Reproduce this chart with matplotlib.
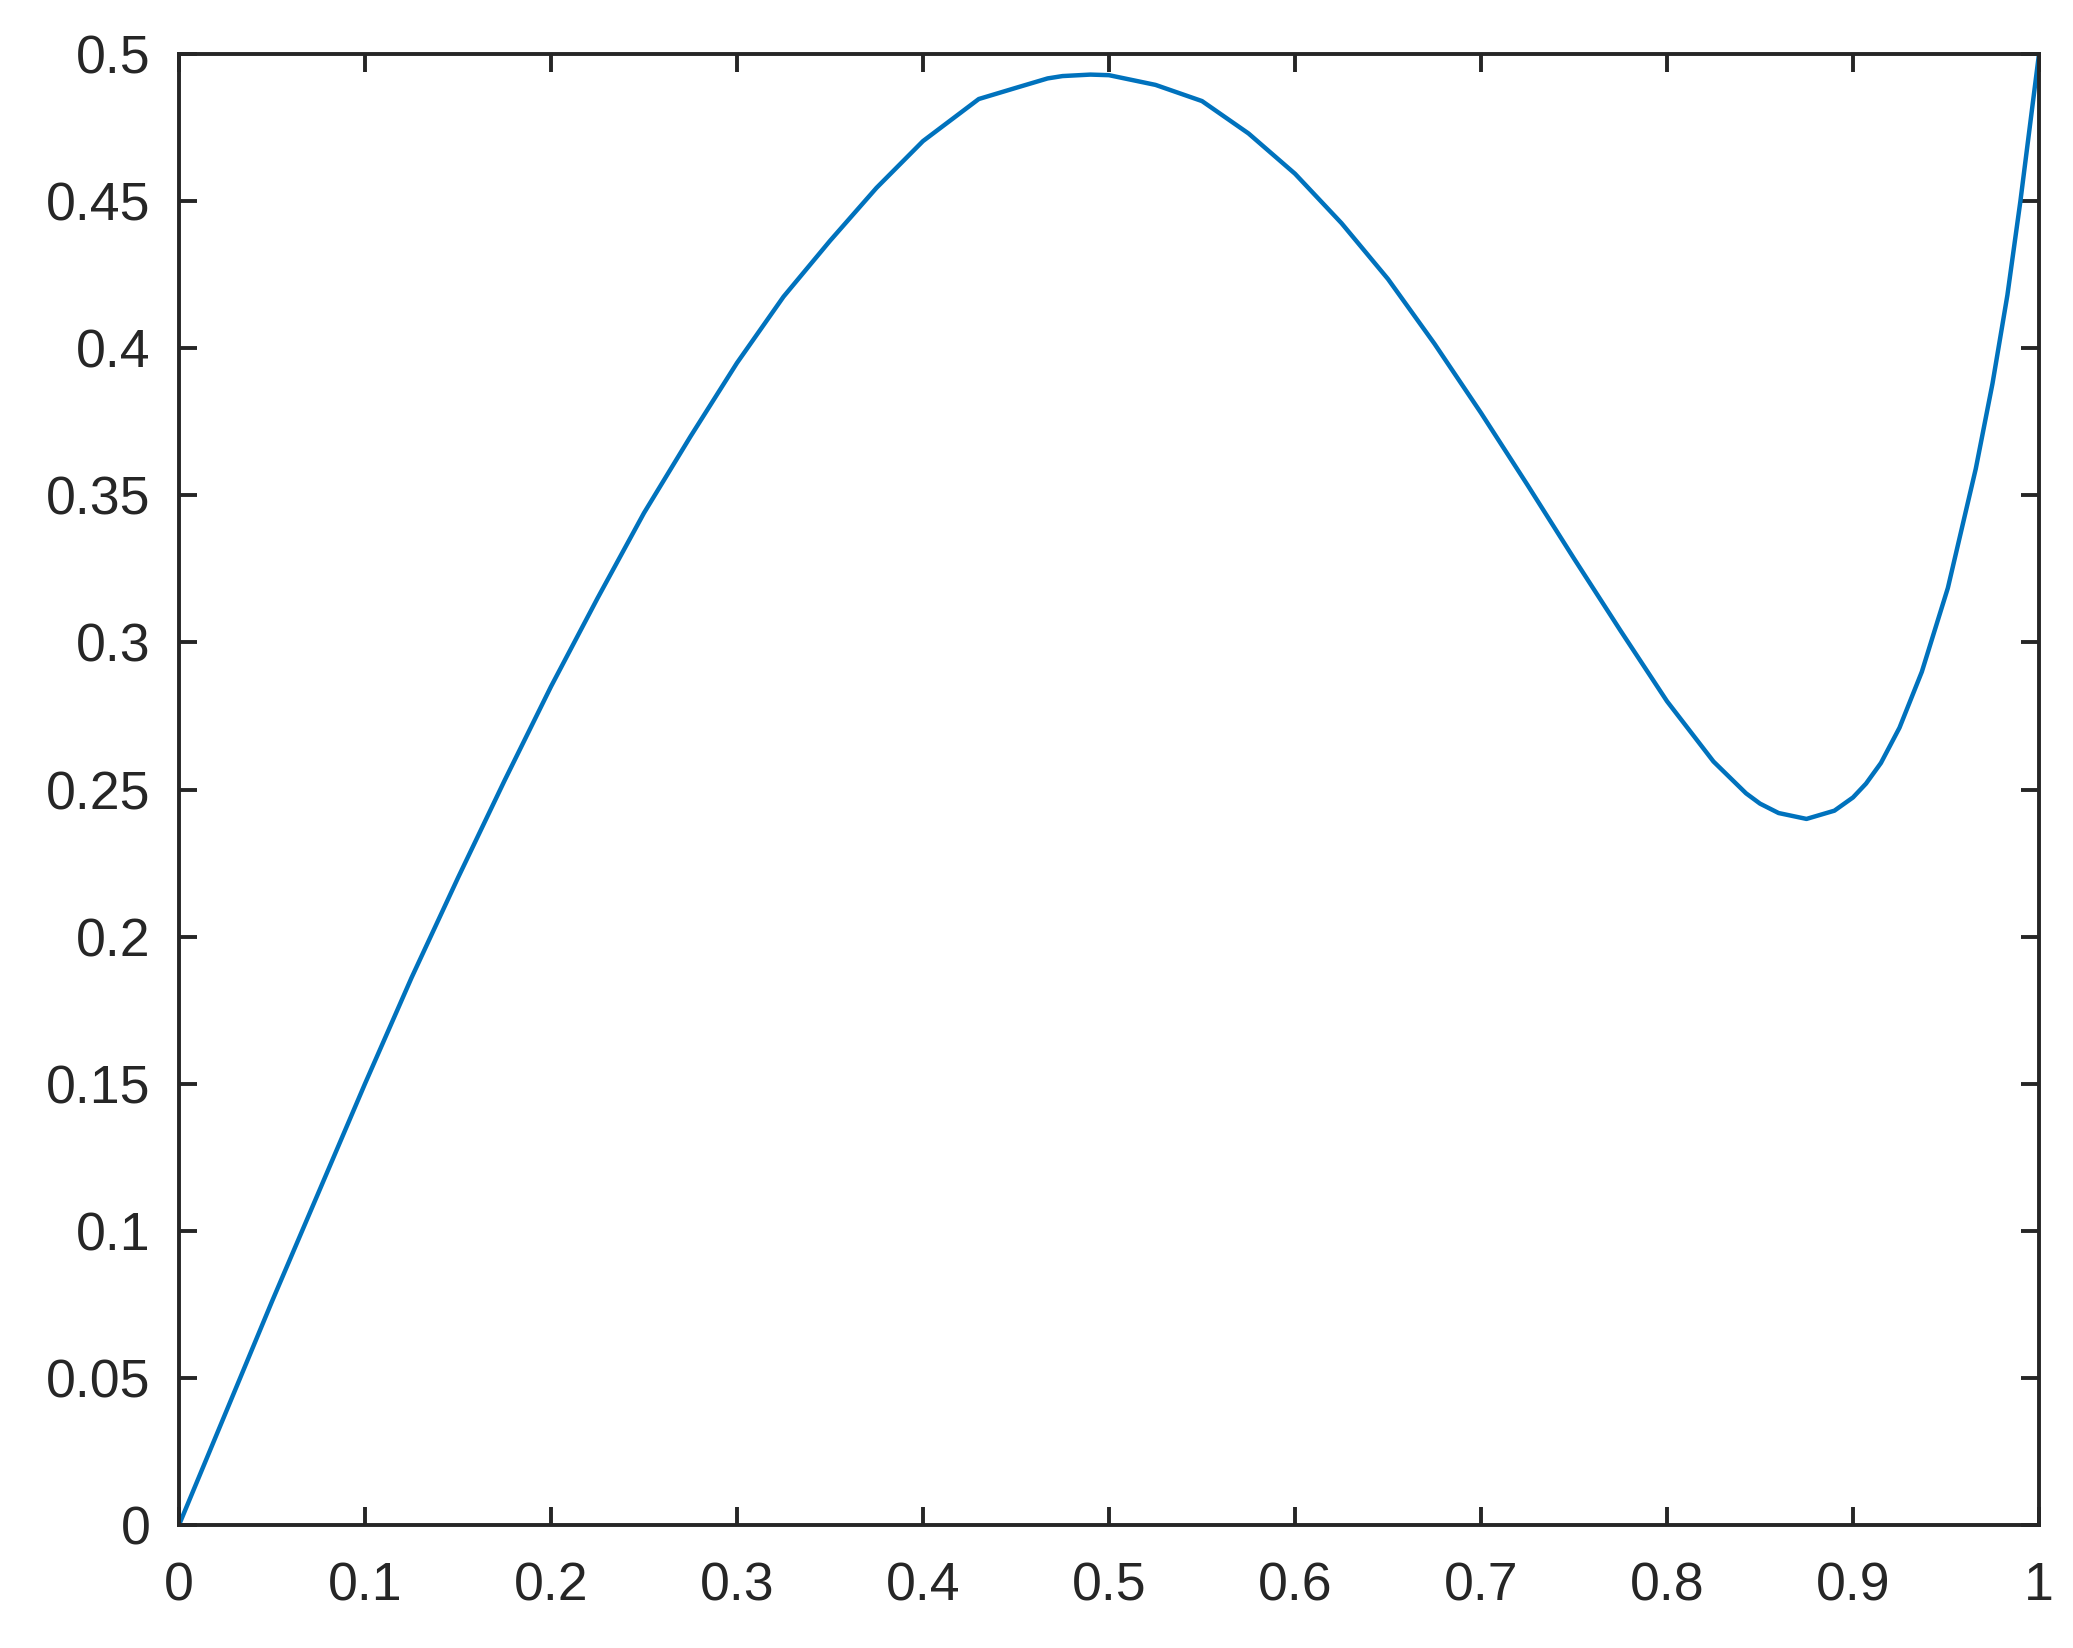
import matplotlib
matplotlib.use("Agg")
import matplotlib.pyplot as plt

x_vals = [0.0, 0.025, 0.05, 0.075, 0.1, 0.125, 0.15, 0.175, 0.2, 0.225, 0.25, 0.275,
          0.3, 0.325, 0.35, 0.375, 0.4, 0.43, 0.45, 0.467, 0.475, 0.49, 0.5, 0.525,
          0.55, 0.575, 0.6, 0.625, 0.65, 0.675, 0.7, 0.725, 0.75, 0.775, 0.8, 0.825,
          0.8425, 0.85, 0.86, 0.875, 0.89, 0.9, 0.907, 0.915, 0.925, 0.937, 0.951,
          0.966, 0.975, 0.983, 0.99, 1.0]
y_vals = [0.0, 0.038, 0.076, 0.113, 0.150, 0.186, 0.220, 0.253, 0.285, 0.315, 0.344, 0.370,
          0.395, 0.4175, 0.4365, 0.4545, 0.4704, 0.4847, 0.4885, 0.4917, 0.4925, 0.4930, 0.4928, 0.4895,
          0.4840, 0.4730, 0.4593, 0.4425, 0.4235, 0.4015, 0.378, 0.3535, 0.3285, 0.304, 0.280, 0.2595,
          0.2487, 0.2452, 0.2420, 0.2400, 0.2428, 0.2473, 0.2520, 0.2590, 0.2710, 0.2900, 0.3185,
          0.359, 0.388, 0.418, 0.450, 0.5]

x_ticks = [0, 0.1, 0.2, 0.3, 0.4, 0.5, 0.6, 0.7, 0.8, 0.9, 1.0]
x_tick_labels = ["0", "0.1", "0.2", "0.3", "0.4", "0.5", "0.6", "0.7", "0.8", "0.9", "1"]
y_ticks = [0, 0.05, 0.1, 0.15, 0.2, 0.25, 0.3, 0.35, 0.4, 0.45, 0.5]
y_tick_labels = ["0", "0.05", "0.1", "0.15", "0.2", "0.25", "0.3", "0.35", "0.4", "0.45", "0.5"]

plt.rcParams['font.family'] = ['Liberation Sans', 'DejaVu Sans']
fig = plt.figure(figsize=(2073/200, 1648/200), dpi=200)
ax = fig.add_axes([179/2073, 1 - 1525/1648, (2039-179)/2073, (1525-54)/1648])
ax.plot(x_vals, y_vals, color='#0072BD', lw=1.6, solid_joinstyle='round')
ax.set_xlim(0, 1)
ax.set_ylim(0, 0.5)
ax.set_xticks(x_ticks)
ax.set_xticklabels(x_tick_labels)
ax.set_yticks(y_ticks)
ax.set_yticklabels(y_tick_labels)
axc = '#262626'
for s in ax.spines.values():
    s.set_color(axc)
    s.set_linewidth(1.4)
ax.tick_params(direction='in', length=6.5, width=1.4, color=axc, labelcolor=axc,
               labelsize=19.3, top=True, right=True)
ax.tick_params(axis='x', pad=13)
ax.tick_params(axis='y', pad=10.3)
fig.savefig("out.png", dpi=200)
